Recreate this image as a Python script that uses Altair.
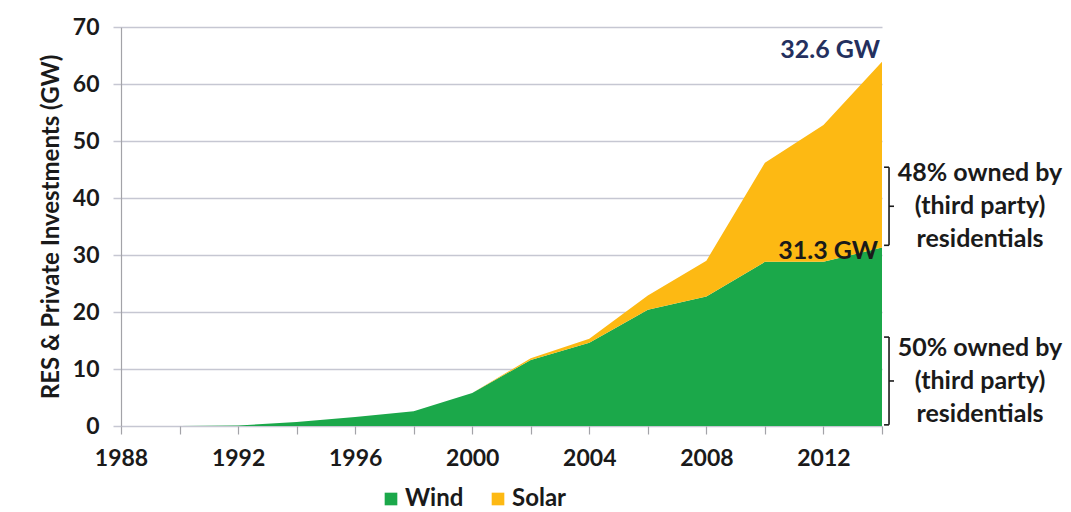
import altair as alt
import pandas as pd

# Installed capacity held by RES & private investors, GW, every second year
years = [1988, 1990, 1992, 1994, 1996, 1998, 2000, 2002, 2004, 2006, 2008, 2010, 2012, 2014]
wind = [0, 0, 0.1, 0.7, 1.6, 2.6, 5.8, 11.6, 14.6, 20.4, 22.7, 28.8, 28.8, 31.3]
solar = [0, 0, 0, 0, 0, 0, 0, 0.3, 0.7, 2.5, 6.3, 17.4, 24.0, 32.6]

series = ["Wind", "Solar"]
colors = ["#1ba84a", "#fdb913"]

# Ownership brackets on the right-hand side (GW span covered by each bracket)
bracket_lo = [31.7, 0.2]
bracket_hi = [45.4, 15.6]
bracket_text = ["48% owned by\n(third party)\nresidentials",
                "50% owned by\n(third party)\nresidentials"]

FONT = "Lato"
INK = "#1a1a1a"
GRID = "#c6c7d2"
AXIS = "#a3a3a8"
Y_TITLE = "RES & Private Investments (GW)"
LINE_H = 33

rows = []
for i, yr in enumerate(years):
    rows.append({"year": yr, "source": "Wind", "gw": wind[i], "order": 0})
    rows.append({"year": yr, "source": "Solar", "gw": solar[i], "order": 1})
df = pd.DataFrame(rows)

x_scale = alt.Scale(domain=[years[0], years[-1]], nice=False, zero=False)
y_scale = alt.Scale(domain=[0, 70], nice=False)

x_axis = alt.Axis(
    values=years,
    labelExpr="datum.value % 4 == 0 ? format(datum.value, 'd') : ''",
    grid=False, domain=False, tickColor=AXIS, tickSize=8, tickWidth=1.2,
    labelFont=FONT, labelFontSize=23, labelFontWeight="bold", labelColor=INK,
    labelPadding=13, labelFlush=False, labelOverlap=False,
)
y_axis = alt.Axis(
    values=list(range(0, 71, 10)),
    grid=True, gridColor=GRID, gridWidth=1.5,
    domain=True, domainColor=AXIS, domainWidth=1.2,
    tickColor=GRID, tickSize=8, tickWidth=1.5,
    labelFont=FONT, labelFontSize=23, labelFontWeight="bold", labelColor=INK,
    labelPadding=14,
    titleFont=FONT, titleFontSize=24, titleFontWeight="bold", titleColor=INK,
    titlePadding=9,
)


def X(field):
    return alt.X(field, scale=x_scale, axis=x_axis, title=None)


def Y(field, **kw):
    return alt.Y(field, scale=y_scale, axis=y_axis, title=Y_TITLE, **kw)


area = alt.Chart(df).mark_area(opacity=1, interpolate="linear").encode(
    x=X("year:Q"),
    y=Y("gw:Q", stack="zero"),
    color=alt.Color(
        "source:N", scale=alt.Scale(domain=series, range=colors),
        legend=alt.Legend(
            title=None, orient="none", legendX=258, legendY=460, direction="horizontal",
            symbolType="square", symbolSize=160, symbolStrokeWidth=0,
            labelFont=FONT, labelFontSize=24, labelFontWeight="bold", labelColor=INK,
            labelOffset=2, columnPadding=22,
        ),
    ),
    order=alt.Order("order:Q"),
)

# End-of-series value labels
last = pd.DataFrame({
    "year": [years[-1], years[-1]],
    "gw": [wind[-1] + solar[-1], wind[-1]],
    "label": [f"{solar[-1]} GW", f"{wind[-1]} GW"],
    "kind": ["solar", "wind"],
})
solar_label = alt.Chart(last).transform_filter("datum.kind == 'solar'").mark_text(
    align="right", baseline="middle", dx=-2, dy=-12, font=FONT, fontSize=25,
    fontWeight="bold", color="#24305e",
).encode(x=X("year:Q"), y=Y("gw:Q"), text="label:N")
wind_label = alt.Chart(last).transform_filter("datum.kind == 'wind'").mark_text(
    align="right", baseline="middle", dx=-4, dy=3, font=FONT, fontSize=25,
    fontWeight="bold", color=INK,
).encode(x=X("year:Q"), y=Y("gw:Q"), text="label:N")

# Brackets: spine, two arms and a middle nub, plus their captions
SPINE, ARM, NUB, CAPTION = years[-1] + 0.24, years[-1] + 0.07, years[-1] + 0.41, years[-1] + 3.35
br = pd.DataFrame({"lo": bracket_lo, "hi": bracket_hi, "text": bracket_text})
base = alt.Chart(br).transform_calculate(
    mid="(datum.lo + datum.hi) / 2", spine=str(SPINE), arm=str(ARM), nub=str(NUB), cap=str(CAPTION)
)
rule_kw = dict(color=INK, strokeWidth=1.6)
spine = base.mark_rule(**rule_kw).encode(x=X("spine:Q"), y=Y("lo:Q"), y2="hi:Q")
arm_top = base.mark_rule(**rule_kw).encode(x=X("arm:Q"), x2="spine:Q", y=Y("hi:Q"))
arm_bot = base.mark_rule(**rule_kw).encode(x=X("arm:Q"), x2="spine:Q", y=Y("lo:Q"))
nub = base.mark_rule(**rule_kw).encode(x=X("spine:Q"), x2="nub:Q", y=Y("mid:Q"))
# three-line caption, middle line level with the nub
captions = base.mark_text(
    align="center", baseline="middle", lineBreak="\n", lineHeight=LINE_H, dy=-LINE_H,
    font=FONT, fontSize=25, fontWeight="bold", color=INK,
).encode(x=X("cap:Q"), y=Y("mid:Q"), text="text:N")

chart = alt.layer(
    area, solar_label, wind_label, spine, arm_top, arm_bot, nub, captions
).properties(
    width=761, height=399,
    autosize=alt.AutoSizeParams(type="none"),
    padding={"left": 121, "top": 27, "right": 189, "bottom": 86},
    background="white",
).configure_view(stroke=None)

chart.save("out.html", embed_options={"renderer": "svg", "actions": False})
